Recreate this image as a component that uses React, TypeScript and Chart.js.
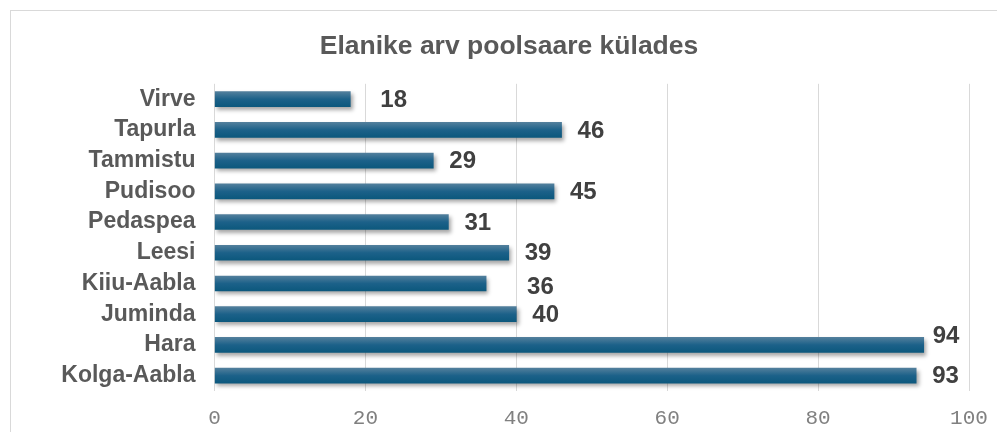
import React, { useEffect, useRef } from "react";
import { Chart, registerables } from "chart.js";

Chart.register(...registerables);

const categories = ["Virve", "Tapurla", "Tammistu", "Pudisoo", "Pedaspea", "Leesi", "Kiiu-Aabla", "Juminda", "Hara", "Kolga-Aabla"];
const values = [18, 46, 29, 45, 31, 39, 36, 40, 94, 93];
const xTicks = [0, 20, 40, 60, 80, 100];
const titleText = "Elanike arv poolsaare külades";
// small nudges of individual value labels (as placed in the original)
const labelNudgeX = [14, 0, 0, 0, 0, 0, 25, 0, -7, 0];
const labelNudgeY = [0, 0, 0, 0, 0, 0, 3, 0, -10, 0];

const shadowPlugin = {
  id: "barShadow",
  beforeDatasetsDraw(chart: any) {
    const ctx = chart.ctx;
    ctx.save();
    ctx.shadowColor = "rgba(0,0,0,0.35)";
    ctx.shadowBlur = 4;
    ctx.shadowOffsetX = 2;
    ctx.shadowOffsetY = 3;
  },
  afterDatasetsDraw(chart: any) {
    chart.ctx.restore();
  },
};

const valueLabelPlugin = {
  id: "valueLabels",
  afterDraw(chart: any) {
    const ctx = chart.ctx;
    const meta = chart.getDatasetMeta(0);
    ctx.save();
    ctx.font = "bold 24px 'Liberation Sans', Arial, sans-serif";
    ctx.fillStyle = "#404040";
    ctx.textAlign = "left";
    ctx.textBaseline = "middle";
    meta.data.forEach((bar: any, i: number) => {
      ctx.fillText(String(values[i]), bar.x + 16 + labelNudgeX[i], bar.y + 1 + labelNudgeY[i]);
    });
    ctx.restore();
  },
};

export default function App() {
  const ref = useRef<HTMLCanvasElement | null>(null);
  useEffect(() => {
    if (!ref.current) return;
    const chart = new Chart(ref.current, {
      type: "bar",
      data: {
        labels: categories,
        datasets: [
          {
            data: values,
            backgroundColor: (c: any) => {
              const ch = c.chart;
              const ys = ch.scales?.y;
              if (!ys || c.dataIndex === undefined) return "#1a628a";
              const yc = ys.getPixelForValue(c.dataIndex);
              if (!isFinite(yc)) return "#1a628a";
              const g = ch.ctx.createLinearGradient(0, yc - 7.5, 0, yc + 7.5);
              g.addColorStop(0, "#527f9c");
              g.addColorStop(0.5, "#1c6189");
              g.addColorStop(1, "#0c587d");
              return g;
            },
            borderWidth: 0,
            barThickness: 15,
          },
        ],
      },
      options: {
        indexAxis: "y",
        animation: false,
        responsive: false,
        maintainAspectRatio: false,
        layout: { padding: { top: 12, left: 49, right: 28, bottom: 3 } },
        plugins: {
          legend: { display: false },
          tooltip: { enabled: false },
          title: {
            display: true,
            text: titleText,
            color: "#595959",
            font: { family: "'Liberation Sans', Arial, sans-serif", size: 26.5, weight: "bold" },
            padding: { top: 19, bottom: 21 },
          },
        },
        scales: {
          x: {
            min: 0,
            max: 100,
            afterBuildTicks: (s: any) => {
              s.ticks = xTicks.map((v) => ({ value: v }));
            },
            afterFit: (s: any) => {
              s.height = 38;
              s.paddingLeft = 0;
              s.paddingRight = 0;
            },
            grid: { color: "#d9d9d9", lineWidth: 1, drawTicks: false },
            border: { display: false },
            ticks: {
              color: "#808080",
              padding: 15,
              font: { family: "'Liberation Mono', 'Courier New', monospace", size: 21 },
            },
          },
          y: {
            grid: { display: false },
            border: { display: false },
            afterFit: (s: any) => {
              s.width = 165.5;
              s.paddingTop = 0;
              s.paddingBottom = 0;
            },
            ticks: {
              color: "#595959",
              padding: 11,
              font: { family: "'Liberation Sans', Arial, sans-serif", size: 23, weight: "bold" },
            },
          },
        },
      },
      plugins: [shadowPlugin, valueLabelPlugin],
    } as any);
    chart.update();
    return () => chart.destroy();
  }, []);

  return (
    <div style={{ position: "fixed", left: 0, top: 0, width: 997, height: 432, overflow: "hidden", background: "#fff" }}>
      <div
        style={{
          position: "absolute",
          left: 10,
          top: 10,
          width: 1100,
          height: 500,
          border: "1px solid #d9d9d9",
        }}
      />
      <canvas ref={ref} width={997} height={432} style={{ position: "absolute", left: 0, top: 0, width: 997, height: 432 }} />
    </div>
  );
}
